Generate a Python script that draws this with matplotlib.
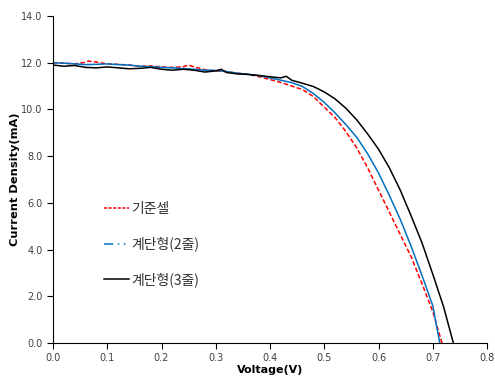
import numpy as np
import matplotlib.pyplot as plt
from matplotlib.lines import Line2D

plt.rcParams['font.family'] = ['DejaVu Sans']
cjk = ['Noto Sans CJK KR', 'DejaVu Sans']

# 기준셀 (red dashed)
v_ref = [0.00, 0.02, 0.04, 0.06, 0.065, 0.08, 0.10, 0.12, 0.14, 0.16, 0.18, 0.20, 0.22, 0.24,
         0.25, 0.26, 0.28, 0.30, 0.32, 0.34, 0.36, 0.38, 0.40, 0.425, 0.44, 0.46, 0.48, 0.50,
         0.52, 0.54, 0.56, 0.58, 0.60, 0.62, 0.64, 0.66, 0.68, 0.70, 0.717]
j_ref = [12.00, 11.98, 11.95, 12.02, 12.07, 12.03, 11.95, 11.93, 11.90, 11.85, 11.86, 11.82, 11.80, 11.83,
         11.90, 11.82, 11.70, 11.65, 11.62, 11.55, 11.50, 11.40, 11.28, 11.12, 11.00, 10.85, 10.55, 10.10,
         9.65, 9.05, 8.35, 7.50, 6.55, 5.60, 4.65, 3.70, 2.55, 1.35, 0.0]

# 계단형(2줄) (blue)
v_2 = [0.00, 0.02, 0.04, 0.06, 0.08, 0.10, 0.12, 0.14, 0.16, 0.18, 0.20, 0.22, 0.24, 0.26, 0.28,
       0.30, 0.32, 0.34, 0.36, 0.38, 0.40, 0.42, 0.44, 0.46, 0.48, 0.50, 0.52, 0.54, 0.56, 0.58,
       0.60, 0.62, 0.64, 0.66, 0.68, 0.70, 0.713]
j_2 = [12.00, 11.98, 11.95, 11.92, 11.93, 11.95, 11.92, 11.90, 11.85, 11.83, 11.80, 11.78, 11.75, 11.72, 11.68,
       11.67, 11.62, 11.55, 11.50, 11.45, 11.35, 11.25, 11.15, 10.98, 10.68, 10.30, 9.85, 9.35, 8.80, 8.10,
       7.28, 6.32, 5.30, 4.15, 2.90, 1.60, 0.0]

# 계단형(3줄) (black)
v_3 = [0.00, 0.02, 0.04, 0.06, 0.08, 0.10, 0.12, 0.14, 0.16, 0.18, 0.20, 0.22, 0.24, 0.26, 0.28,
       0.30, 0.31, 0.32, 0.34, 0.36, 0.38, 0.40, 0.42, 0.43, 0.44, 0.46, 0.48, 0.50, 0.52, 0.54,
       0.56, 0.58, 0.60, 0.62, 0.64, 0.66, 0.68, 0.70, 0.72, 0.738]
j_3 = [11.90, 11.85, 11.88, 11.80, 11.78, 11.82, 11.78, 11.74, 11.76, 11.80, 11.72, 11.68, 11.72, 11.68, 11.60,
       11.65, 11.72, 11.58, 11.52, 11.50, 11.45, 11.40, 11.35, 11.42, 11.25, 11.12, 10.98, 10.75, 10.45, 10.05,
       9.55, 8.95, 8.30, 7.50, 6.55, 5.45, 4.30, 2.95, 1.55, 0.0]

red = '#ff0000'
blue = '#0070c0'

fig = plt.figure(figsize=(4.95, 3.76), dpi=100)
ax = fig.add_axes([53/495, 1 - 343/376, 434/495, 327/376])

ax.plot(v_ref, j_ref, color=red, lw=1.1, ls=(0, (3, 1.5)))
ax.plot(v_2, j_2, color=blue, lw=1.1)
ax.plot(v_3, j_3, color='black', lw=1.1)

ax.set_xlim(0, 0.8)
ax.set_ylim(0, 14)
ax.set_xticks(np.arange(0, 0.81, 0.1))
ax.set_yticks(np.arange(0, 14.1, 2))
ax.xaxis.set_major_formatter(plt.FormatStrFormatter('%.1f'))
ax.yaxis.set_major_formatter(plt.FormatStrFormatter('%.1f'))
ax.spines['top'].set_visible(False)
ax.spines['right'].set_visible(False)
ax.tick_params(direction='out', length=4, labelsize=7, colors='black', labelcolor='#404040')
ax.tick_params(axis='x', pad=3)

ax.set_xlabel('Voltage(V)', fontsize=8, fontweight='bold', va='bottom')
ax.xaxis.set_label_coords(0.5, -0.098)
ax.set_ylabel('Current Density(mA)', fontsize=8.2, fontweight='bold', va='center')
ax.yaxis.set_label_coords(-0.088, 0.5)

handles = [
    Line2D([], [], color=red, lw=1.1, ls=(0, (2, 1))),
    Line2D([], [], color=blue, lw=1.1, ls=(0, (6, 3, 1, 3, 1, 3))),
    Line2D([], [], color='black', lw=1.1),
]
labels = ['기준셀', '계단형(2줄)', '계단형(3줄)']
ax.legend(handles, labels, loc='upper left', bbox_to_anchor=(0.088, 0.47), frameon=False,
          prop={'family': cjk, 'size': 10}, handlelength=1.8, handletextpad=0.2,
          labelspacing=1.5, labelcolor='#303030')

fig.savefig('out.png', dpi=100)
